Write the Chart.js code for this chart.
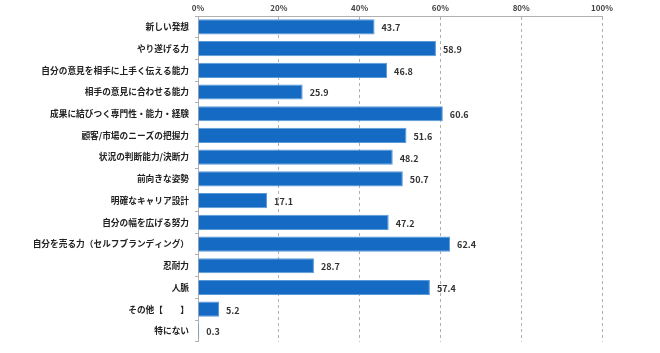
<!DOCTYPE html>
<html>
<head>
<meta charset="utf-8">
<script src="https://cdn.jsdelivr.net/npm/chart.js@4"></script>
<style>
  html, body { margin: 0; padding: 0; background: #fff; }
  #wrap { width: 660px; height: 353px; }
</style>
</head>
<body>
<div id="wrap"><canvas id="skillChart"></canvas></div>
<script>
const categories = [
  "新しい発想",
  "やり遂げる力",
  "自分の意見を相手に上手く伝える能力",
  "相手の意見に合わせる能力",
  "成果に結びつく専門性・能力・経験",
  "顧客/市場のニーズの把握力",
  "状況の判断能力/決断力",
  "前向きな姿勢",
  "明確なキャリア設計",
  "自分の幅を広げる努力",
  "自分を売る力（セルフブランディング）",
  "忍耐力",
  "人脈",
  "その他【　　】",
  "特にない"
];
const values = [43.7, 58.9, 46.8, 25.9, 60.6, 51.6, 48.2, 50.7, 17.1, 47.2, 62.4, 28.7, 57.4, 5.2, 0.3];
const xTicks = [0, 20, 40, 60, 80, 100];

const FONT = "'Noto Sans CJK JP', 'Noto Sans', sans-serif";

// value labels at the end of each bar
const valueLabels = {
  id: 'valueLabels',
  afterDatasetsDraw(chart) {
    const ctx = chart.ctx;
    const meta = chart.getDatasetMeta(0);
    ctx.save();
    ctx.font = "bold 9px " + FONT;
    ctx.fillStyle = '#333';
    ctx.textBaseline = 'middle';
    meta.data.forEach((bar, i) => {
      ctx.fillText(values[i].toFixed(1), bar.x + 7, bar.y + 1);
    });
    ctx.restore();
  }
};

new Chart(document.getElementById('skillChart'), {
  type: 'bar',
  data: {
    labels: categories,
    datasets: [{
      data: values,
      backgroundColor: '#156bc3',
      borderColor: '#5a9ad8',
      borderWidth: 1,
      barPercentage: 0.7,
      categoryPercentage: 1
    }]
  },
  options: {
    indexAxis: 'y',
    responsive: true,
    maintainAspectRatio: false,
    animation: false,
    layout: { padding: { top: 0, right: 58, bottom: 7, left: 0 } },
    plugins: {
      legend: { display: false },
      tooltip: { enabled: false }
    },
    scales: {
      x: {
        position: 'top',
        min: 0,
        max: 100,
        afterBuildTicks: (s) => { s.ticks = xTicks.map(v => ({ value: v })); },
        afterFit: (s) => { s.height = 16; },
        ticks: {
          padding: 3,
          font: { family: FONT, size: 8, weight: 'bold' },
          color: '#444',
          callback: (v) => v + '%'
        },
        grid: {
          color: '#b0b0b0',
          drawTicks: false
        },
        border: { display: true, color: '#b0b0b0', dash: [3, 3] }
      },
      y: {
        afterFit: (s) => { s.width = 198; },
        ticks: {
          padding: 6,
          font: { family: FONT, size: 8.7, weight: 'bold' },
          color: '#222'
        },
        grid: {
          drawOnChartArea: false,
          drawTicks: true,
          tickLength: 3,
          color: '#b0b0b0'
        },
        border: { display: true, color: '#b0b0b0' }
      }
    }
  },
  plugins: [valueLabels]
});
</script>
</body>
</html>
